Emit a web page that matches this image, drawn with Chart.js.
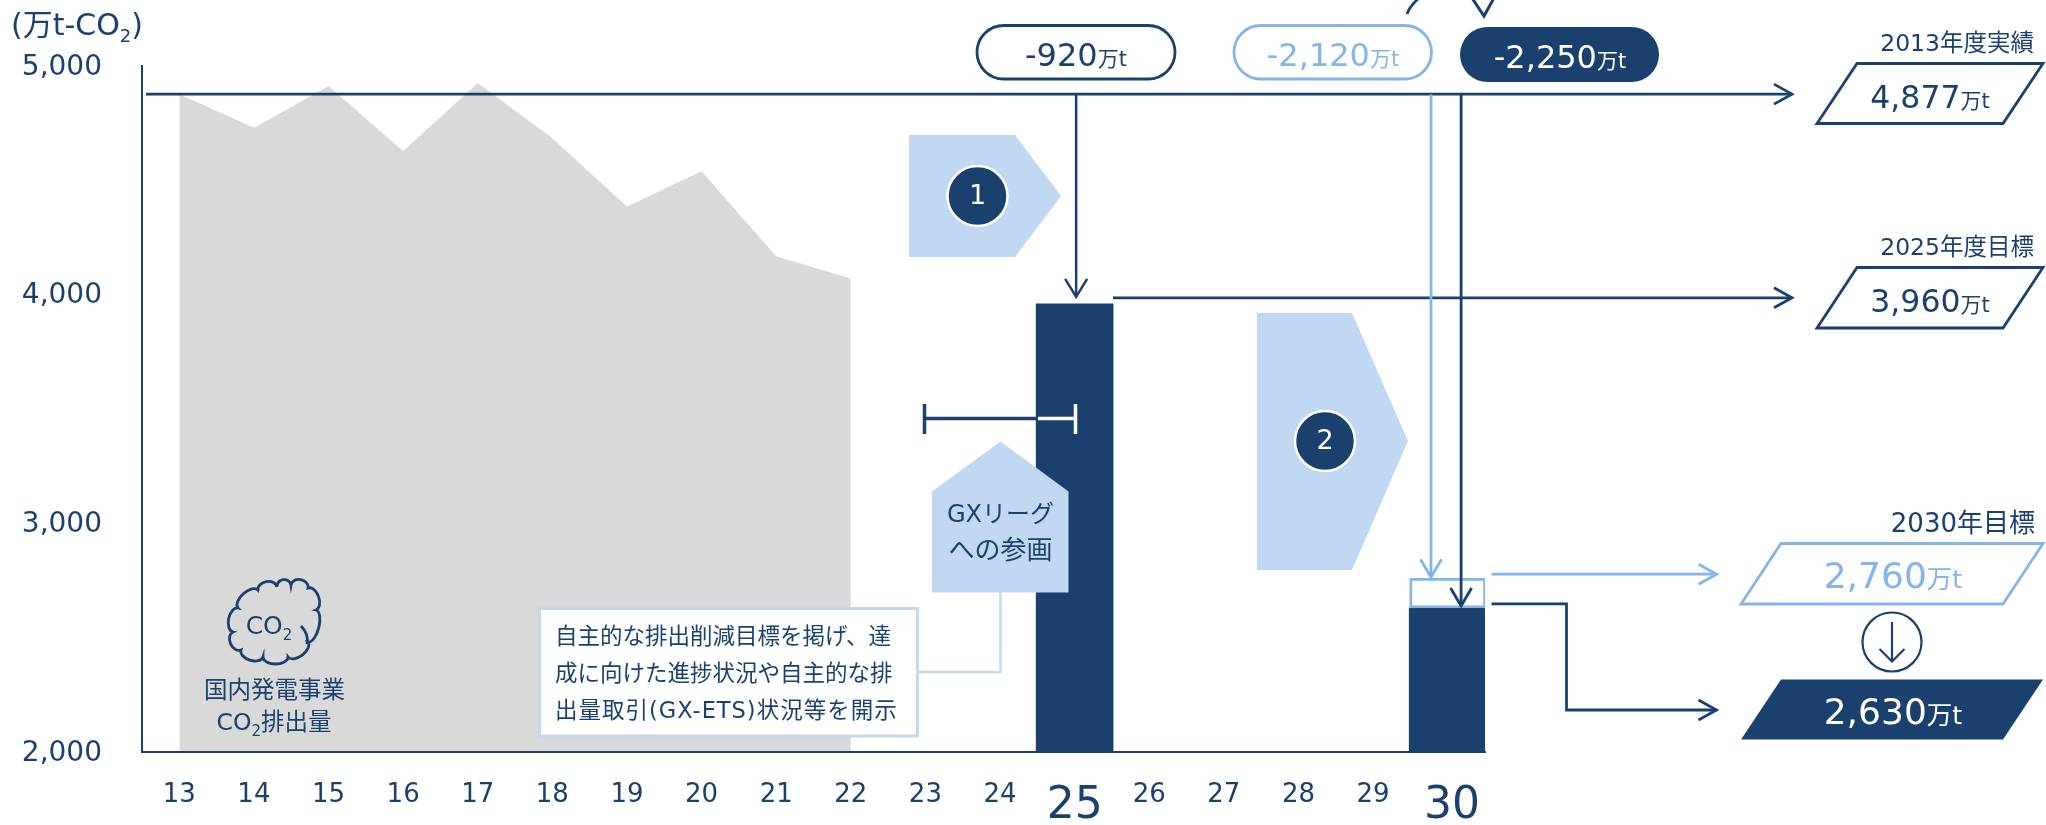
<!DOCTYPE html>
<html lang="ja">
<head>
<meta charset="utf-8">
<title>国内発電事業 CO2排出量</title>
<script src="https://cdn.jsdelivr.net/npm/chart.js@4"></script>
<style>
  html, body { margin: 0; padding: 0; background: #fff; }
  canvas { display: block; }
</style>
</head>
<body>
<canvas id="co2Chart" width="2046" height="825"></canvas>
<script>
const years = ['13', '14', '15', '16', '17', '18', '19', '20', '21', '22', '23', '24', '25', '26', '27', '28', '29', '30'];
const bigYears = ['25', '30'];

// 実績 (万t-CO2)
const emissions = [4877, 4730, 4912, 4628, 4926, 4684, 4386, 4540, 4168, 4071, null, null, null, null, null, null, null, null];
// 目標
const targets = [null, null, null, null, null, null, null, null, null, null, null, null, 3960, null, null, null, null, 2630];
const formerTarget = [null, null, null, null, null, null, null, null, null, null, null, null, null, null, null, null, null, [2630, 2760]];

const yTicks = [2000, 3000, 4000, 5000];
const reductions = [-920, -2120, -2250];
const baseValue = 4877;
const target2025 = 3960;
const target2030Old = 2760;
const target2030 = 2630;

const NAVY = '#1a416e';
const LIGHT = '#84b4e8';
const PALE = '#c0d8f2';
const FONT = '"DejaVu Sans", "Noto Sans CJK JP", sans-serif';
const LINE = 2.8;

const fmt = v => Math.abs(v).toLocaleString('en-US');

function setFont(ctx, size) {
  ctx.font = size + 'px ' + FONT;
}

// text runs of different sizes on one baseline, e.g. "4,877" + "万t"
function drawRuns(ctx, runs, x, y, color) {
  let total = 0;
  runs.forEach(r => {
    setFont(ctx, r.size);
    total += ctx.measureText(r.text).width;
  });
  let cur = x - total / 2;
  ctx.fillStyle = color;
  ctx.textAlign = 'left';
  ctx.textBaseline = 'alphabetic';
  runs.forEach(r => {
    setFont(ctx, r.size);
    ctx.fillText(r.text, cur, y + (r.dy || 0));
    cur += ctx.measureText(r.text).width;
  });
}

function drawText(ctx, text, x, y, size, color, align) {
  setFont(ctx, size);
  ctx.fillStyle = color;
  ctx.textAlign = align || 'center';
  ctx.textBaseline = 'middle';
  ctx.fillText(text, x, y);
}

function polyline(ctx, pts, color, width) {
  ctx.beginPath();
  pts.forEach((p, i) => (i ? ctx.lineTo(p[0], p[1]) : ctx.moveTo(p[0], p[1])));
  ctx.strokeStyle = color;
  ctx.lineWidth = width;
  ctx.stroke();
}

function polygon(ctx, pts) {
  ctx.beginPath();
  pts.forEach((p, i) => (i ? ctx.lineTo(p[0], p[1]) : ctx.moveTo(p[0], p[1])));
  ctx.closePath();
}

function arrowRight(ctx, x1, x2, y, color, width) {
  polyline(ctx, [[x1, y], [x2, y]], color, width);
  polyline(ctx, [[x2 - 18, y - 10], [x2, y], [x2 - 18, y + 10]], color, width);
}

function arrowDown(ctx, x, y1, y2, color, width, wing, back) {
  polyline(ctx, [[x, y1], [x, y2]], color, width);
  polyline(ctx, [[x - wing, y2 - back], [x, y2], [x + wing, y2 - back]], color, width);
}

function pill(ctx, x1, x2, y1, y2, fill, stroke) {
  ctx.beginPath();
  ctx.roundRect(x1, y1, x2 - x1, y2 - y1, (y2 - y1) / 2);
  ctx.fillStyle = fill;
  ctx.fill();
  if (stroke) {
    ctx.strokeStyle = stroke;
    ctx.lineWidth = LINE;
    ctx.stroke();
  }
}

function parallelogram(ctx, top, bottom, left, right, fill, stroke) {
  polygon(ctx, [[left + 40, top], [right, top], [right - 40, bottom], [left, bottom]]);
  ctx.fillStyle = fill;
  ctx.fill();
  if (stroke) {
    ctx.strokeStyle = stroke;
    ctx.lineWidth = LINE;
    ctx.lineJoin = 'miter';
    ctx.stroke();
  }
}

function badge(ctx, x, y, label) {
  ctx.beginPath();
  ctx.arc(x, y, 30, 0, Math.PI * 2);
  ctx.fillStyle = NAVY;
  ctx.fill();
  ctx.strokeStyle = '#fff';
  ctx.lineWidth = 2.5;
  ctx.stroke();
  drawText(ctx, label, x, y + 1, 27, '#fff');
}

// bumpy cloud outline: half ellipses between the valley points
function cloud(ctx) {
  const valleys = [[258, 590], [277, 587], [291, 585], [308, 588], [316, 610], [308, 642], [288, 657], [263, 657], [241, 650], [233, 632], [238, 608]];
  ctx.beginPath();
  valleys.forEach((v, i) => {
    const n = valleys[(i + 1) % valleys.length];
    const chord = Math.hypot(n[0] - v[0], n[1] - v[1]);
    const bulge = Math.min(chord * 0.45, 7);
    const rot = Math.atan2(n[1] - v[1], n[0] - v[0]);
    ctx.ellipse((v[0] + n[0]) / 2, (v[1] + n[1]) / 2, chord / 2, bulge, rot, Math.PI, Math.PI * 2);
  });
  ctx.closePath();
  ctx.strokeStyle = NAVY;
  ctx.lineWidth = 2.8;
  ctx.stroke();
  ctx.beginPath();
  ctx.moveTo(301, 626);
  ctx.quadraticCurveTo(309, 634, 307, 644);
  ctx.stroke();
}

const annotations = {
  id: 'annotations',
  afterDatasetsDraw(chart) {
    const ctx = chart.ctx;
    const y = chart.scales.y;
    const x = chart.scales.x;
    const yBase = y.getPixelForValue(baseValue);
    const y25 = y.getPixelForValue(target2025);
    const yOld = y.getPixelForValue(target2030Old);
    const yNew = y.getPixelForValue(target2030);
    const x25 = x.getPixelForValue(12);
    const x30 = x.getPixelForValue(17);

    ctx.save();
    ctx.lineCap = 'butt';

    // unit label above the y axis
    drawRuns(ctx, [
      { text: '(万t-CO', size: 30 },
      { text: '2', size: 18, dy: 7 },
      { text: ')', size: 30 }
    ], 77, 35, NAVY);

    // reduction steps
    polygon(ctx, [[909, 135], [1015, 135], [1061, 196], [1015, 257], [909, 257]]);
    ctx.fillStyle = PALE;
    ctx.fill();
    badge(ctx, 977.5, 196, '1');
    polygon(ctx, [[1257, 313], [1352, 313], [1408, 441], [1352, 570], [1257, 570]]);
    ctx.fillStyle = PALE;
    ctx.fill();
    badge(ctx, 1325, 441, '2');

    // house shape and its callout box
    polyline(ctx, [[1000.5, 592], [1000.5, 672], [917, 672]], PALE, 2.5);
    polygon(ctx, [[1000.5, 441.5], [1068.5, 491.5], [1068.5, 592.5], [932, 592.5], [932, 491.5]]);
    ctx.fillStyle = PALE;
    ctx.fill();
    drawText(ctx, 'GXリーグ', 1000.5, 516, 24, NAVY);
    drawText(ctx, 'への参画', 1000.5, 552, 26, NAVY);

    ctx.beginPath();
    ctx.rect(539.5, 608.5, 378, 127.5);
    ctx.fillStyle = '#fff';
    ctx.fill();
    ctx.strokeStyle = PALE;
    ctx.lineWidth = 2.8;
    ctx.stroke();
    drawText(ctx, '自主的な排出削減目標を掲げ、達', 555, 638, 22.5, NAVY, 'left');
    drawText(ctx, '成に向けた進捗状況や自主的な排', 555, 675, 22.5, NAVY, 'left');
    ctx.letterSpacing = '1px';
    drawText(ctx, '出量取引(GX-ETS)状況等を開示', 555, 712, 22.5, NAVY, 'left');
    ctx.letterSpacing = '0px';

    // bracket, white where it crosses the 2025 bar
    polyline(ctx, [[924.5, 404], [924.5, 434]], NAVY, 3.5);
    polyline(ctx, [[925, 418.5], [1036, 418.5]], NAVY, 3.5);
    polyline(ctx, [[1038, 418.5], [1075.5, 418.5]], '#fff', 3.5);
    polyline(ctx, [[1075.5, 404], [1075.5, 434]], '#fff', 3.5);

    // cloud and series caption
    cloud(ctx);
    drawRuns(ctx, [{ text: 'CO', size: 25 }, { text: '2', size: 15, dy: 6 }], 269, 634, NAVY);
    drawText(ctx, '国内発電事業', 274.5, 692, 23.5, NAVY);
    drawRuns(ctx, [
      { text: 'CO', size: 23.5 },
      { text: '2', size: 15, dy: 6 },
      { text: '排出量', size: 23.5 }
    ], 274, 730, NAVY);

    // arrows
    arrowRight(ctx, 146, 1792, yBase, NAVY, LINE);
    arrowDown(ctx, x25 + 1.5, yBase, y25 - 7, NAVY, 2.5, 11, 18);
    arrowRight(ctx, 1113, 1792, y25 - 6, NAVY, LINE);
    arrowDown(ctx, 1431, yBase, yOld - 1, LIGHT, LINE, 10.5, 18);
    arrowDown(ctx, x30 + 13.4, yBase, yNew - 2, NAVY, LINE, 10.5, 18);
    arrowRight(ctx, 1491.5, 1716.5, yOld - 4, LIGHT, LINE);
    polyline(ctx, [[1491.5, yNew - 4], [1566.5, yNew - 4], [1566.5, 710], [1716.5, 710]], NAVY, LINE);
    polyline(ctx, [[1698.5, 700], [1716.5, 710], [1698.5, 720]], NAVY, LINE);

    // arrow coming in from above the top edge
    ctx.beginPath();
    ctx.moveTo(1407, 14);
    ctx.quadraticCurveTo(1410, 6, 1418, -1);
    ctx.strokeStyle = NAVY;
    ctx.lineWidth = LINE;
    ctx.stroke();
    polyline(ctx, [[1472, -2], [1484, 16], [1494, -2]], NAVY, 3);

    // reduction pills
    const pillRuns = v => [{ text: '-' + fmt(v), size: 32 }, { text: '万t', size: 21 }];
    pill(ctx, 977, 1175, 25.5, 79, '#fff', NAVY);
    drawRuns(ctx, pillRuns(reductions[0]), 1076, 65.5, NAVY);
    pill(ctx, 1234, 1431.5, 25.5, 79, '#fff', LIGHT);
    drawRuns(ctx, pillRuns(reductions[1]), 1333, 65.5, LIGHT);
    pill(ctx, 1460, 1659, 27, 82, NAVY);
    drawRuns(ctx, pillRuns(reductions[2]), 1560, 68, '#fff');

    // value boxes on the right
    drawText(ctx, '2013年度実績', 2034, 45, 23.5, NAVY, 'right');
    parallelogram(ctx, 63.5, 123.5, 1817, 2043, '#fff', NAVY);
    drawRuns(ctx, [{ text: fmt(baseValue), size: 31.5 }, { text: '万t', size: 21 }], 1930, 108, NAVY);

    drawText(ctx, '2025年度目標', 2034, 249, 23.5, NAVY, 'right');
    parallelogram(ctx, 267.5, 328, 1817, 2043, '#fff', NAVY);
    drawRuns(ctx, [{ text: fmt(target2025), size: 31.5 }, { text: '万t', size: 21 }], 1930, 312, NAVY);

    drawText(ctx, '2030年目標', 2035, 525, 26, NAVY, 'right');
    parallelogram(ctx, 543.5, 604, 1741, 2043, '#fff', LIGHT);
    drawRuns(ctx, [{ text: fmt(target2030Old), size: 36 }, { text: '万t', size: 25.5 }], 1893, 588, LIGHT);

    ctx.beginPath();
    ctx.arc(1892, 642, 29.5, 0, Math.PI * 2);
    ctx.strokeStyle = NAVY;
    ctx.lineWidth = 2.2;
    ctx.stroke();
    arrowDown(ctx, 1892, 622, 661.5, NAVY, 2.2, 12.5, 12.5);

    parallelogram(ctx, 679.5, 739.5, 1741, 2043, NAVY);
    drawRuns(ctx, [{ text: fmt(target2030), size: 36 }, { text: '万t', size: 25.5 }], 1893, 724, '#fff');

    ctx.restore();
  }
};

new Chart(document.getElementById('co2Chart'), {
  data: {
    labels: years,
    datasets: [
      {
        type: 'line',
        data: emissions,
        borderWidth: 0,
        pointRadius: 0,
        tension: 0,
        fill: 'start',
        backgroundColor: '#d9d9d9',
        order: 3
      },
      {
        type: 'bar',
        data: targets,
        backgroundColor: NAVY,
        barThickness: 77,
        grouped: false,
        order: 2
      },
      {
        type: 'bar',
        data: formerTarget,
        backgroundColor: '#fff',
        borderColor: LIGHT,
        borderWidth: 2.8,
        borderSkipped: false,
        barThickness: 76,
        grouped: false,
        order: 1
      }
    ]
  },
  options: {
    responsive: false,
    animation: false,
    layout: { padding: { top: 66, right: 561, bottom: 0, left: 0 } },
    plugins: {
      legend: { display: false },
      tooltip: { enabled: false }
    },
    scales: {
      x: {
        offset: true,
        grid: { display: false },
        border: { color: NAVY, width: 2, z: 1 },
        afterFit: s => { s.height = 73; },
        ticks: {
          color: NAVY,
          padding: 20,
          maxRotation: 0,
          autoSkip: false,
          // the 2030 label sits a little right of its bar
          callback: (v, i) => (years[i] === '30' ? '\u2009' + years[i] : years[i]),
          font: c => ({
            family: FONT,
            size: bigYears.includes(years[c.index]) ? 44 : 26
          })
        }
      },
      y: {
        min: 2000,
        max: 5000,
        grid: { display: false, drawTicks: false },
        border: { color: NAVY, width: 2 },
        afterFit: s => { s.width = 142; },
        afterBuildTicks: s => { s.ticks = yTicks.map(v => ({ value: v })); },
        ticks: {
          color: NAVY,
          padding: 40,
          labelOffset: 1.5,
          font: { family: FONT, size: 28 },
          callback: v => v.toLocaleString('en-US')
        }
      }
    }
  },
  plugins: [annotations]
});
</script>
</body>
</html>
